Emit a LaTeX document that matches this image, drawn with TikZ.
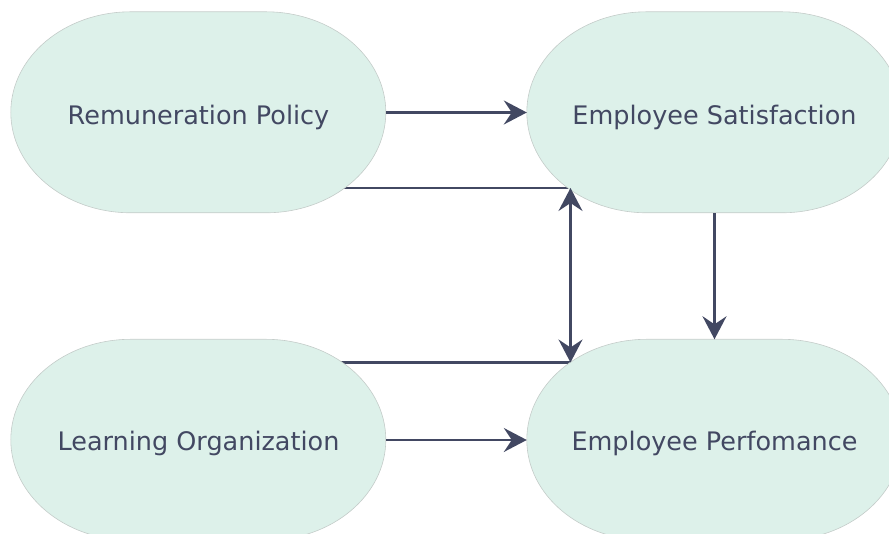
\documentclass[tikz,border=0pt]{standalone}
\usepackage{fontspec}
\setmainfont{DejaVu Sans}
\usetikzlibrary{arrows.meta}
\pgfdeclarelayer{bg}
\pgfdeclarelayer{mid}
\pgfsetlayers{bg,mid,main}
\definecolor{boxfill}{RGB}{221,241,234}
\definecolor{boxline}{RGB}{196,204,201}
\definecolor{ink}{RGB}{66,72,98}
\tikzset{
  pill/.style={inner sep=0pt, minimum width=375pt, minimum height=201pt,
    text=ink, font=\fontsize{25.5}{29}\selectfont, text depth=0pt},
  pilltop/.style={pill, text height=24.6pt},
  pillbot/.style={pill, text height=21.6pt},
  pillshape/.style={draw=boxline, line width=0.6pt, fill=boxfill},
  conn/.style={draw=ink, line width=2.2pt},
  tip/.style={-{Stealth[length=23pt, width=24pt, inset=8pt]}},
  tips/.style={{Stealth[length=23pt, width=24pt, inset=8pt]}-{Stealth[length=23pt, width=24pt, inset=8pt]}}
}
\newcommand{\pillpath}[1]{%
  \path[pillshape] (#1.north west) ++(120pt,0) -- ++(135pt,0)
    arc[start angle=90, end angle=-90, x radius=120pt, y radius=100.5pt]
    -- ++(-135pt,0)
    arc[start angle=270, end angle=90, x radius=120pt, y radius=100.5pt] -- cycle;}
\begin{document}
\begin{tikzpicture}[x=1pt,y=1pt]
\useasboundingbox (0,0) rectangle (889,534);
\node[pilltop] (rem) at (198.5,421.5) {Remuneration Policy};
\node[pilltop] (sat) at (714.5,421.5) {Employee Satisfaction};
\node[pillbot] (lrn) at (198.5,94) {Learning Organization};
\node[pillbot] (perf) at (714.5,94) {Employee Perfomance};
\coordinate (jt) at (570.5,346);
\coordinate (jb) at (570.5,171.5);
\begin{pgfonlayer}{mid}
\pillpath{rem}
\pillpath{sat}
\pillpath{lrn}
\pillpath{perf}
\end{pgfonlayer}
\begin{pgfonlayer}{bg}
\draw[conn] (rem.center |- jt) -- (jt);
\draw[conn] (lrn.center |- jb) -- (jb);
\end{pgfonlayer}
\draw[conn, tip] (rem.east) -- (sat.west);
\draw[conn, tip] (lrn.east) -- (perf.west);
\draw[conn, tip] (sat.south) -- (perf.north);
\draw[conn, tips] (jb) -- (jt);
\end{tikzpicture}
\end{document}
